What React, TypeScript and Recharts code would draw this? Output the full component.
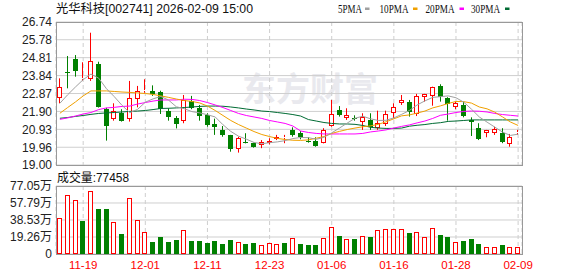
import { ComposedChart, Bar, Line, XAxis, YAxis, CartesianGrid } from "recharts";

const DATES = [
  "11-14", "11-17", "11-18", "11-19", "11-20", "11-21", "11-24", "11-25", "11-26", "11-27",
  "11-28", "12-01", "12-02", "12-03", "12-04", "12-05", "12-08", "12-09", "12-10", "12-11",
  "12-12", "12-15", "12-16", "12-17", "12-18", "12-19", "12-22", "12-23", "12-24", "12-25",
  "12-26", "12-29", "12-30", "12-31", "01-05", "01-06", "01-07", "01-08", "01-09", "01-12",
  "01-13", "01-14", "01-15", "01-16", "01-19", "01-20", "01-21", "01-22", "01-23", "01-26",
  "01-27", "01-28", "01-29", "01-30", "02-02", "02-03", "02-04", "02-05", "02-06", "02-09",
];

const OPEN = [
  22.61, 24.05, 24.72, 23.69, 23.64, 24.47, 22.02, 21.51, 21.80, 21.51,
  22.56, 22.99, 23.01, 22.95, 21.94, 21.55, 21.38, 22.47, 22.07, 21.71,
  21.20, 20.90, 20.63, 19.85, 20.22, 20.18, 20.08, 20.18, 20.43, 20.46,
  20.90, 20.72, 20.32, 20.32, 20.18, 21.11, 21.98, 21.56, 21.55, 21.35,
  21.44, 20.99, 21.20, 21.83, 22.37, 22.43, 21.76, 22.70, 22.74, 23.28,
  22.61, 22.16, 22.25, 21.44, 21.02, 20.72, 20.72, 20.75, 20.12, 20.73,
];
const HIGH = [
  23.69, 24.90, 24.95, 24.56, 26.16, 24.59, 22.10, 22.34, 22.02, 23.55,
  23.28, 23.64, 23.31, 23.02, 22.07, 21.65, 22.79, 22.74, 22.25, 21.80,
  21.51, 21.11, 20.63, 20.53, 20.72, 20.21, 20.35, 20.45, 20.63, 20.63,
  21.04, 20.84, 20.50, 20.50, 20.99, 22.52, 22.19, 22.07, 21.69, 21.80,
  21.80, 21.94, 21.94, 22.34, 22.79, 22.52, 22.85, 22.85, 23.24, 23.37,
  22.67, 22.43, 22.43, 21.58, 21.26, 20.90, 21.07, 20.99, 20.68, 20.90,
];
const LOW = [
  22.34, 23.15, 23.78, 23.56, 23.55, 22.11, 20.32, 21.40, 21.35, 21.35,
  22.12, 22.91, 22.74, 21.76, 21.40, 20.98, 21.26, 22.02, 21.40, 21.07,
  20.63, 20.53, 19.72, 19.67, 20.17, 19.94, 19.91, 20.12, 20.35, 20.18,
  20.53, 20.39, 20.21, 19.99, 20.17, 21.07, 21.62, 21.44, 21.40, 20.90,
  20.90, 20.90, 21.11, 21.53, 22.25, 21.62, 21.65, 22.43, 22.21, 22.43,
  21.40, 22.02, 21.58, 20.57, 20.35, 20.50, 20.63, 20.18, 19.99, 20.63,
];
const CLOSE = [
  23.21, 23.96, 24.10, 23.73, 24.61, 22.12, 21.11, 21.92, 21.40, 22.61,
  23.02, 23.04, 22.84, 22.02, 21.62, 21.24, 22.52, 22.07, 21.67, 21.17,
  21.07, 20.63, 19.85, 20.45, 20.19, 19.99, 20.23, 20.28, 20.53, 20.50,
  20.63, 20.50, 20.26, 20.05, 20.90, 21.75, 21.71, 21.72, 21.47, 21.58,
  21.04, 21.26, 21.75, 22.12, 22.52, 21.89, 22.74, 22.83, 23.21, 22.67,
  22.30, 22.37, 21.65, 21.33, 20.39, 20.88, 20.95, 20.26, 20.50, 20.77,
];
// volume in 万 (10k)
const VOLUME = [
  40.7, 66.9, 61.3, 36.9, 71.4, 51.2, 51.2, 36.6, 23.1, 63.2,
  38.8, 25.3, 14.1, 19.7, 13.3, 16.3, 27.6, 15.2, 15.2, 12.9,
  15.2, 11.8, 16.3, 13.7, 11.8, 12.9, 10.7, 12.1, 11.5, 12.6,
  18.2, 11.8, 10.7, 10.7, 18.2, 30.6, 20.8, 17.1, 17.4, 20.8,
  19.7, 27.6, 28.7, 28.7, 28.7, 23.8, 25.0, 19.3, 29.5, 21.9,
  19.7, 13.7, 15.2, 17.4, 11.8, 8.1, 8.1, 10.3, 8.1, 7.75,
];
const MA5 = [
  22.34, 22.80, 23.22, 23.62, 23.92, 23.70, 23.13, 22.70, 22.23, 21.83,
  22.01, 22.40, 22.58, 22.71, 22.51, 22.15, 22.05, 21.89, 21.82, 21.72,
  21.60, 21.18, 20.82, 20.56, 20.40, 20.22, 20.15, 20.21, 20.25, 20.32,
  20.43, 20.49, 20.48, 20.39, 20.50, 20.74, 21.00, 21.27, 21.53, 21.64,
  21.50, 21.41, 21.42, 21.55, 21.74, 21.95, 22.25, 22.47, 22.66, 22.70,
  22.74, 22.64, 22.40, 22.02, 21.60, 21.32, 21.05, 20.78, 20.60, 20.67,
];
const MA10 = [
  21.80, 22.11, 22.41, 22.74, 23.01, 23.01, 23.01, 22.98, 22.95, 22.93,
  22.90, 22.87, 22.82, 22.74, 22.66, 22.57, 22.49, 22.44, 22.36, 22.19,
  21.95, 21.68, 21.41, 21.19, 21.00, 20.81, 20.65, 20.54, 20.44, 20.38,
  20.34, 20.33, 20.36, 20.45, 20.54, 20.71, 20.82, 20.92, 21.00, 21.07,
  21.12, 21.20, 21.34, 21.50, 21.66, 21.71, 21.81, 21.92, 22.09, 22.20,
  22.33, 22.44, 22.43, 22.35, 22.14, 22.04, 21.86, 21.60, 21.33, 21.14,
];
const MA20 = [
  21.47, 21.55, 21.65, 21.76, 21.84, 22.00, 22.09, 22.12, 22.17, 22.19,
  22.30, 22.38, 22.46, 22.52, 22.52, 22.52, 22.56, 22.55, 22.49, 22.38,
  22.25, 22.11, 21.95, 21.79, 21.68, 21.60, 21.52, 21.41, 21.33, 21.25,
  21.11, 20.84, 20.76, 20.71, 20.68, 20.68, 20.68, 20.68, 20.68, 20.71,
  20.79, 20.84, 20.90, 21.00, 21.09, 21.17, 21.28, 21.38, 21.52, 21.69,
  21.76, 21.84, 21.90, 21.92, 21.91, 21.87, 21.79, 21.73, 21.69, 21.65,
];
const MA30 = [
  21.53, 21.57, 21.63, 21.68, 21.74, 21.79, 21.82, 21.84, 21.87, 21.90,
  21.92, 21.95, 22.00, 22.06, 22.07, 22.09, 22.11, 22.14, 22.17, 22.19,
  22.19, 22.18, 22.14, 22.09, 22.03, 21.98, 21.92, 21.89, 21.84, 21.79,
  21.73, 21.65, 21.46, 21.38, 21.30, 21.25, 21.22, 21.22, 21.20, 21.14,
  21.04, 21.00, 20.98, 20.98, 21.00, 21.10, 21.15, 21.19, 21.25, 21.29,
  21.36, 21.38, 21.41, 21.44, 21.44, 21.44, 21.44, 21.44, 21.44, 21.44,
];

const PRICE_TICKS = [19.0, 19.96, 20.93, 21.9, 22.87, 23.84, 24.81, 25.78, 26.74];
const VOL_TICKS = [0, 19.26, 38.53, 57.79, 77.05];
const DATE_TICKS = ["11-19", "12-01", "12-11", "12-23", "01-06", "01-16", "01-28", "02-09"];

const RED = "#ff0000";
const GREEN = "#008000";
const GRID = "#cfcfcf";
const BORDER = "#999999";
const FONT = "'Liberation Sans', Arial, 'Noto Sans CJK SC', sans-serif";

const rows = DATES.map((date, i) => ({
  date,
  open: OPEN[i],
  high: HIGH[i],
  low: LOW[i],
  close: CLOSE[i],
  range: [LOW[i], HIGH[i]],
  vol: VOLUME[i],
  volUp: i === 0 ? CLOSE[i] >= OPEN[i] : CLOSE[i] >= CLOSE[i - 1],
  ma5: MA5[i],
  ma10: MA10[i],
  ma20: MA20[i],
  ma30: MA30[i],
}));

function Candle(props: any) {
  const { x, y, width, height, payload } = props;
  const top = Math.min(y, y + height);
  const h = Math.abs(height);
  const span = payload.high - payload.low;
  const toY = (p: number) => (span > 0 ? top + ((payload.high - p) / span) * h : top);
  const n = Math.floor(x + width / 2);
  const cx = n + 0.5;
  const up = payload.close >= payload.open;
  const color = up ? RED : GREEN;
  const bTop = Math.round(toY(Math.max(payload.open, payload.close)));
  const bBot = Math.max(Math.round(toY(Math.min(payload.open, payload.close))), bTop + 1);
  if (up) {
    return (
      <g>
        <line x1={cx} x2={cx} y1={top} y2={bTop} stroke={color} />
        <line x1={cx} x2={cx} y1={bBot} y2={top + h} stroke={color} />
        <rect x={n - 1.5} y={bTop + 0.5} width={4} height={bBot - bTop - 1 > 0 ? bBot - bTop - 1 : 0} fill="#fff" stroke={color} />
      </g>
    );
  }
  return (
    <g>
      <line x1={cx} x2={cx} y1={top} y2={top + h} stroke={color} />
      <rect x={n - 2} y={bTop} width={5} height={bBot - bTop} fill={color} />
    </g>
  );
}

function VolBar(props: any) {
  const { x, y, width, height, payload } = props;
  const top = Math.round(Math.min(y, y + height));
  const bot = Math.round(Math.max(y, y + height));
  const n = Math.floor(x + width / 2);
  if (payload.volUp) {
    return <rect x={n - 1.5} y={top + 0.5} width={4} height={bot - top - 1} fill="#fff" stroke={RED} />;
  }
  return <rect x={n - 2} y={top} width={5} height={bot - top} fill={GREEN} />;
}

const tickStyle = { fontSize: 12, fill: "#222", fontFamily: FONT };

export default function App() {
  return (
    <div style={{ position: "absolute", left: 0, top: 0, width: 578, height: 276, background: "#fff", overflow: "hidden" }}>
      <svg width={578} height={276} style={{ position: "absolute", left: 0, top: 0 }}>
        <text x={242} y={101} fontSize={33} fontWeight="bold" fill="#e9e9ee" fontFamily="'Noto Sans CJK SC', sans-serif" textLength={136} lengthAdjust="spacingAndGlyphs">
          东方财富
        </text>
      </svg>

      <div style={{ position: "absolute", left: 0, top: 0 }}>
        <ComposedChart width={578} height={176} data={rows} margin={{ top: 22, right: 56, bottom: 11, left: 0 }} barCategoryGap={0}>
          <CartesianGrid horizontal={true} vertical={false} stroke={GRID} />
          <CartesianGrid horizontal={false} vertical={true} stroke={GRID} strokeDasharray="4 3" />
          <XAxis dataKey="date" hide ticks={DATE_TICKS} interval={0} />
          <YAxis
            type="number"
            domain={[19, 26.74]}
            ticks={PRICE_TICKS}
            interval={0}
            width={56}
            axisLine={false}
            tickLine={false}
            tickSize={0}
            tickMargin={4}
            tick={tickStyle}
            tickFormatter={(v: number) => v.toFixed(2)}
          />
          <Bar dataKey="range" barSize={5} shape={<Candle />} isAnimationActive={false} />
          <Line dataKey="ma30" stroke="#006b33" strokeWidth={1} dot={false} type="linear" isAnimationActive={false} />
          <Line dataKey="ma20" stroke="#ff00ff" strokeWidth={1} dot={false} type="linear" isAnimationActive={false} />
          <Line dataKey="ma10" stroke="#f0a000" strokeWidth={1} dot={false} type="linear" isAnimationActive={false} />
          <Line dataKey="ma5" stroke="#a0a0a0" strokeWidth={1} dot={false} type="linear" isAnimationActive={false} />
        </ComposedChart>
      </div>

      <div style={{ position: "absolute", left: 0, top: 170 }}>
        <ComposedChart width={578} height={106} data={rows} margin={{ top: 16, right: 56, bottom: 0, left: 0 }} barCategoryGap={0}>
          <CartesianGrid horizontal={true} vertical={false} stroke={GRID} />
          <CartesianGrid horizontal={false} vertical={true} stroke={GRID} strokeDasharray="4 3" />
          <XAxis
            dataKey="date"
            ticks={DATE_TICKS}
            interval={0}
            height={22}
            axisLine={false}
            tickLine={false}
            tickSize={0}
            tickMargin={7}
            tick={{ fontSize: 11.5, fill: RED, fontFamily: FONT }}
          />
          <YAxis
            type="number"
            domain={[0, 77.05]}
            ticks={VOL_TICKS}
            interval={0}
            width={56}
            axisLine={false}
            tickLine={false}
            tickSize={0}
            tickMargin={4}
            tick={tickStyle}
            tickFormatter={(v: number) => (v === 0 ? "0" : v.toFixed(2) + "万")}
          />
          <Bar dataKey="vol" barSize={5} shape={<VolBar />} isAnimationActive={false} />
        </ComposedChart>
      </div>

      <svg width={578} height={276} style={{ position: "absolute", left: 0, top: 0, pointerEvents: "none" }}>
        <rect x={56.5} y={22.5} width={466} height={143} fill="none" stroke={BORDER} />
        <rect x={56.5} y={186.5} width={466} height={68} fill="none" stroke={BORDER} />
        <text x={56} y={12.5} fontSize={12.5} fill="#111" fontFamily={FONT} textLength={197} lengthAdjust="spacingAndGlyphs">
          光华科技[002741] 2026-02-09 15:00
        </text>
        <g fontSize={12.5} fill="#111" fontFamily="'Liberation Serif', 'DejaVu Serif', serif">
          <text x={338} y={12.5} textLength={24} lengthAdjust="spacingAndGlyphs">5PMA</text>
          <rect x={365} y={7.5} width={4.5} height={2.5} fill="#a0a0a0" />
          <text x={379.5} y={12.5} textLength={29} lengthAdjust="spacingAndGlyphs">10PMA</text>
          <rect x={413} y={7.5} width={4.5} height={2.5} fill="#f0a000" />
          <text x={425.5} y={12.5} textLength={29} lengthAdjust="spacingAndGlyphs">20PMA</text>
          <rect x={459.5} y={7.5} width={4.5} height={2.5} fill="#ff00ff" />
          <text x={471} y={12.5} textLength={29} lengthAdjust="spacingAndGlyphs">30PMA</text>
          <rect x={505} y={7.5} width={4.5} height={2.5} fill="#006b33" />
        </g>
        <text x={57} y={181.5} fontSize={12.5} fill="#111" fontFamily={FONT} textLength={72} lengthAdjust="spacingAndGlyphs">
          成交量:77458
        </text>
      </svg>
    </div>
  );
}
